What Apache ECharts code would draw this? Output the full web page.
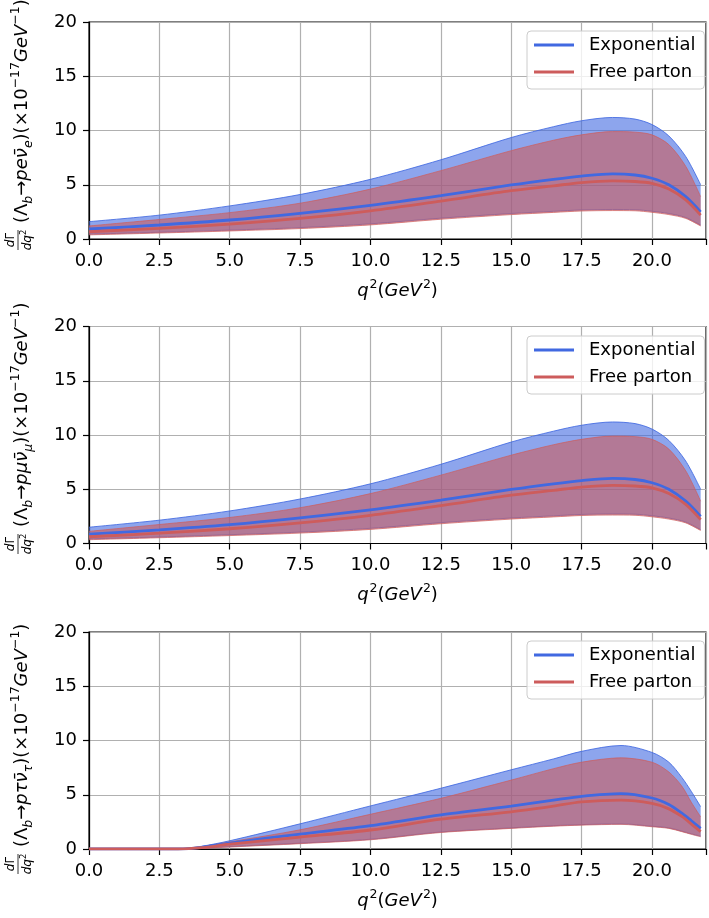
<!DOCTYPE html>
<html>
<head>
<meta charset="utf-8">
<script src="https://cdn.jsdelivr.net/npm/echarts@6/dist/echarts.min.js"></script>
<style>
html,body{margin:0;padding:0;background:#fff;}
#c{width:709px;height:918px;}
</style>
</head>
<body>
<div id="c"></div>
<script>
// ---------- data ----------
const xTicks = [0, 2.5, 5, 7.5, 10, 12.5, 15, 17.5, 20];
const yTicks = [0, 5, 10, 15, 20];

// Λb → p e ν̄e
const q2_e      = [0, 2.5, 5, 7.5, 10, 12.5, 15, 16.5, 17.5, 18.6, 19.4, 20, 20.6, 21.2, 21.73];
const exp_e_hi  = [1.6, 2.2, 3.05, 4.1, 5.5, 7.3, 9.35, 10.35, 10.9, 11.2, 11.05, 10.55, 9.5, 7.6, 5.0];
const exp_e_mid = [0.92, 1.29, 1.75, 2.37, 3.1, 4.0, 4.98, 5.5, 5.8, 6.0, 5.9, 5.6, 5.0, 3.9, 2.5];
const exp_e_lo  = [0.45, 0.62, 0.82, 1.05, 1.4, 1.92, 2.35, 2.55, 2.68, 2.72, 2.7, 2.56, 2.35, 1.98, 1.28];
const fp_e_hi   = [1.2, 1.8, 2.43, 3.3, 4.6, 6.3, 8.14, 9.1, 9.6, 9.9, 9.85, 9.6, 8.7, 6.7, 3.9];
const fp_e_mid  = [0.67, 0.98, 1.38, 1.9, 2.6, 3.5, 4.45, 4.9, 5.2, 5.35, 5.3, 5.13, 4.6, 3.6, 2.2];
const fp_e_lo   = [0.38, 0.55, 0.74, 0.96, 1.3, 1.82, 2.25, 2.45, 2.58, 2.62, 2.6, 2.46, 2.25, 1.9, 1.2];

// Λb → p μ ν̄μ
const q2_mu      = [0, 2.5, 5, 7.5, 10, 12.5, 15, 16.5, 17.5, 18.6, 19.4, 20, 20.6, 21.2, 21.73];
const exp_mu_hi  = [1.5, 2.15, 3.0, 4.1, 5.5, 7.3, 9.35, 10.35, 10.9, 11.2, 11.05, 10.55, 9.5, 7.6, 5.0];
const exp_mu_mid = [0.86, 1.25, 1.73, 2.36, 3.1, 4.0, 4.98, 5.5, 5.8, 6.0, 5.9, 5.6, 5.0, 3.9, 2.5];
const exp_mu_lo  = [0.42, 0.6, 0.81, 1.05, 1.4, 1.92, 2.35, 2.55, 2.68, 2.72, 2.7, 2.56, 2.35, 1.98, 1.28];
const fp_mu_hi   = [1.12, 1.75, 2.4, 3.3, 4.6, 6.3, 8.14, 9.1, 9.6, 9.9, 9.85, 9.6, 8.7, 6.7, 3.9];
const fp_mu_mid  = [0.62, 0.95, 1.36, 1.9, 2.6, 3.5, 4.45, 4.9, 5.2, 5.35, 5.3, 5.13, 4.6, 3.6, 2.2];
const fp_mu_lo   = [0.35, 0.53, 0.73, 0.96, 1.3, 1.82, 2.25, 2.45, 2.58, 2.62, 2.6, 2.46, 2.25, 1.9, 1.2];

// Λb → p τ ν̄τ
const q2_tau      = [0, 3.16, 4, 5, 7.5, 10, 12.5, 15, 16.5, 17.5, 18.9, 20, 20.6, 21.06, 21.4, 21.73];
const exp_tau_hi  = [0, 0, 0.25, 0.76, 2.32, 3.97, 5.6, 7.3, 8.3, 9.0, 9.54, 8.9, 8.0, 6.6, 5.3, 3.9];
const exp_tau_mid = [0, 0, 0.15, 0.55, 1.38, 2.15, 3.14, 3.95, 4.5, 4.86, 5.1, 4.7, 4.1, 3.3, 2.6, 1.9];
const exp_tau_lo  = [0, 0, 0.07, 0.22, 0.54, 0.9, 1.57, 1.95, 2.15, 2.25, 2.32, 2.1, 1.95, 1.65, 1.4, 1.18];
const fp_tau_hi   = [0, 0, 0.2, 0.65, 1.77, 3.2, 4.67, 6.35, 7.4, 8.0, 8.4, 8.0, 7.1, 5.8, 4.3, 2.96];
const fp_tau_mid  = [0, 0, 0.12, 0.45, 1.1, 1.75, 2.75, 3.43, 3.95, 4.34, 4.5, 4.2, 3.7, 3.0, 2.3, 1.6];
const fp_tau_lo   = [0, 0, 0.05, 0.18, 0.49, 0.85, 1.52, 1.9, 2.1, 2.2, 2.27, 2.05, 1.9, 1.6, 1.35, 1.13];

const seriesNames = ['Exponential', 'Free parton'];
const yLabels = [
  {lep: 'e', sub: 'e'},
  {lep: 'μ', sub: 'μ'},
  {lep: 'τ', sub: 'τ'}
];

// ---------- styling / layout ----------
const BLUE = '#4169e1', RED = '#cd5c5c';
const BLUE_FILL = 'rgba(65,105,225,0.6)', RED_FILL = 'rgba(205,92,92,0.6)';
const FONT = 'DejaVu Sans';
const SMOOTH = 0.3;
const gridTops = [22, 326.5, 632];
const GRID_H = 217, GRID_L = 89, GRID_W = 625;
const legendTops = [31, 336, 641];
const ylabBottoms = [253, 557, 877];

const panels = [
  [q2_e, exp_e_lo, exp_e_mid, exp_e_hi, fp_e_lo, fp_e_mid, fp_e_hi],
  [q2_mu, exp_mu_lo, exp_mu_mid, exp_mu_hi, fp_mu_lo, fp_mu_mid, fp_mu_hi],
  [q2_tau, exp_tau_lo, exp_tau_mid, exp_tau_hi, fp_tau_lo, fp_tau_mid, fp_tau_hi]
];

const grids = [], xAxes = [], yAxes = [], series = [], legends = [], graphics = [];
const pairs = (q, v) => q.map((x, i) => [x, v[i]]);
// y first so the stack is computed on the y dimension (encode maps it back)
const ypairs = (q, v) => q.map((x, i) => [v[i], x]);
const ydiffs = (q, lo, hi) => q.map((x, i) => [+(hi[i] - lo[i]).toFixed(4), x]);

panels.forEach((p, g) => {
  const [q, eLo, eMid, eHi, fLo, fMid, fHi] = p;
  grids.push({left: GRID_L, top: gridTops[g], width: GRID_W, height: GRID_H,
    show: true, borderColor: '#000', borderWidth: 1.2, backgroundColor: 'transparent'});
  xAxes.push({
    type: 'value', gridIndex: g, min: 0, max: 21.92, interval: 2.5,
    axisLine: {show: true, onZero: false, lineStyle: {color: '#000', width: 1.2}},
    axisTick: {show: true, length: 6, lineStyle: {color: '#000', width: 1.2}},
    axisLabel: {show: true, margin: 13, color: '#000', fontFamily: FONT, fontSize: 18,
      formatter: v => xTicks.includes(v) ? v.toFixed(1) : ''},
    splitLine: {show: true, lineStyle: {color: '#b0b0b0', width: 1.2}},
    name: '{i|q}{s|2}{n|(}{i|GeV}{s|2}{n|)}',
    nameLocation: 'middle', nameGap: 39,
    nameTextStyle: {color: '#000', fontFamily: FONT, fontSize: 18,
      rich: {
        i: {fontFamily: FONT, fontSize: 18, fontStyle: 'italic', color: '#000', verticalAlign: 'bottom', lineHeight: 22},
        n: {fontFamily: FONT, fontSize: 18, color: '#000', verticalAlign: 'bottom', lineHeight: 22},
        s: {fontFamily: FONT, fontSize: 12.5, color: '#000', verticalAlign: 'top', lineHeight: 22, padding: [0, 0, 0, 1]}
      }}
  });
  yAxes.push({
    type: 'value', gridIndex: g, min: 0, max: 20, interval: 5,
    axisLine: {show: true, lineStyle: {color: '#000', width: 1.2}},
    axisTick: {show: true, length: 6, lineStyle: {color: '#000', width: 1.2}},
    axisLabel: {show: true, margin: 12, color: '#000', fontFamily: FONT, fontSize: 18,
      formatter: v => yTicks.includes(v) ? String(v) : ''},
    splitLine: {show: true, lineStyle: {color: '#b0b0b0', width: 1.2}}
  });

  const band = (name, lo, hi, fill, edge, z) => {
    series.push({
      name: name + 'Lo' + g, type: 'line', xAxisIndex: g, yAxisIndex: g,
      stack: name + g, data: ypairs(q, lo), encode: {x: 1, y: 0},
      showSymbol: false, smooth: SMOOTH,
      lineStyle: {color: edge, width: 1}, itemStyle: {color: edge}, z: z, silent: true
    });
    series.push({
      name: name + 'Hi' + g, type: 'line', xAxisIndex: g, yAxisIndex: g,
      stack: name + g, data: ydiffs(q, lo, hi), encode: {x: 1, y: 0},
      showSymbol: false, smooth: SMOOTH,
      lineStyle: {color: edge, width: 1}, itemStyle: {color: edge},
      areaStyle: {color: fill, opacity: 1}, z: z, silent: true
    });
  };
  band('exp', eLo, eHi, BLUE_FILL, 'rgba(65,105,225,0.85)', 2);
  band('fp', fLo, fHi, RED_FILL, 'rgba(205,92,92,0.7)', 3);

  series.push({
    name: seriesNames[0], type: 'line', xAxisIndex: g, yAxisIndex: g,
    data: pairs(q, eMid), showSymbol: false, smooth: SMOOTH, color: BLUE,
    lineStyle: {color: BLUE, width: 2.8}, z: 5
  });
  series.push({
    name: seriesNames[1], type: 'line', xAxisIndex: g, yAxisIndex: g,
    data: pairs(q, fMid), showSymbol: false, smooth: SMOOTH, color: RED,
    lineStyle: {color: RED, width: 2.8}, z: 6
  });

  legends.push({
    data: seriesNames, left: 527, top: legendTops[g], orient: 'vertical',
    icon: 'rect', itemWidth: 40, itemHeight: 3, itemGap: 7,
    selectedMode: false,
    backgroundColor: 'rgba(255,255,255,0.8)', borderColor: '#cccccc', borderWidth: 1,
    borderRadius: 4, padding: [4, 9, 7, 7],
    textStyle: {color: '#000', fontFamily: FONT, fontSize: 18, lineHeight: 20, padding: [0, 0, 0, 10]}
  });

  const yl = yLabels[g];
  graphics.push({
    type: 'group', x: 18, y: ylabBottoms[g], rotation: Math.PI / 2, silent: true,
    children: [
      {type: 'text', x: 13, y: -1.5, style: {text: '{i|d}{n|Γ}', align: 'center', verticalAlign: 'bottom',
        rich: {i: {fontFamily: FONT, fontSize: 12, fontStyle: 'italic', fill: '#000'},
               n: {fontFamily: FONT, fontSize: 12, fill: '#000'}}}},
      {type: 'line', shape: {x1: 3, y1: 0, x2: 23, y2: 0}, style: {stroke: '#000', lineWidth: 0.8}},
      {type: 'text', x: 13, y: 1.5, style: {text: '{i|dq}{s|2}', align: 'center', verticalAlign: 'top',
        rich: {i: {fontFamily: FONT, fontSize: 12, fontStyle: 'italic', fill: '#000', verticalAlign: 'bottom', lineHeight: 14},
               s: {fontFamily: FONT, fontSize: 8.5, fill: '#000', verticalAlign: 'top', lineHeight: 14}}}},
      {type: 'text', x: 30, y: 4, style: {
        text: '{n|(Λ}{b|b}{n|→}{i|p' + yl.lep + 'ν̄}{b|' + yl.sub + '}{n|)(×10}{p|−17}{i|GeV}{p|−1}{n|)}',
        align: 'left', verticalAlign: 'middle',
        rich: {
          n: {fontFamily: FONT, fontSize: 18, fill: '#000', verticalAlign: 'middle', lineHeight: 26},
          i: {fontFamily: FONT, fontSize: 18, fontStyle: 'italic', fill: '#000', verticalAlign: 'middle', lineHeight: 26},
          b: {fontFamily: FONT, fontSize: 12.5, fontStyle: 'italic', fill: '#000', verticalAlign: 'bottom', lineHeight: 26},
          p: {fontFamily: FONT, fontSize: 12.5, fill: '#000', verticalAlign: 'top', lineHeight: 26}
        }}}
    ]
  });
});

const chart = echarts.init(document.getElementById('c'), null, {renderer: 'canvas'});
chart.setOption({
  animation: false,
  backgroundColor: '#fff',
  grid: grids, xAxis: xAxes, yAxis: yAxes, series: series, legend: legends,
  graphic: graphics
});
</script>
</body>
</html>
